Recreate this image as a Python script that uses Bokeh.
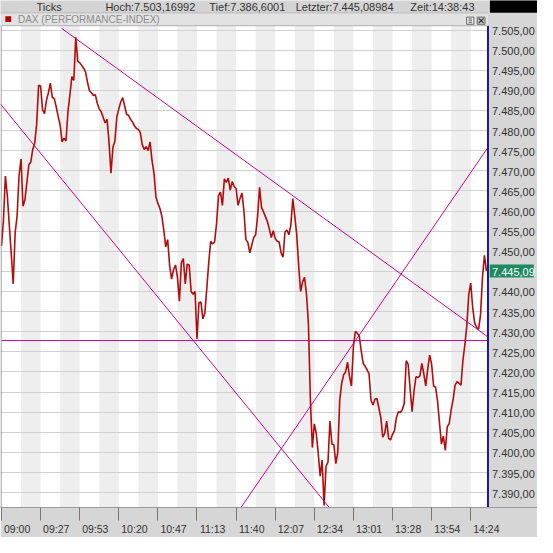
from bokeh.plotting import figure
from bokeh.models import Range1d, FixedTicker, Grid
from bokeh.embed import file_html
from bokeh.resources import INLINE
from bokeh.core.properties import value

# ---------------- data ----------------
price = [
    7451.3, 7457.6, 7468.7, 7463.8, 7456.5, 7449.4, 7441.9, 7454.6, 7458.8, 7468.9,
    7472.9, 7461.2, 7462.8, 7467.1, 7471.5, 7472.2, 7475.3, 7476.9, 7481.6, 7491.3,
    7491.1, 7485.2, 7484.2, 7487.5, 7489.4, 7491.8, 7488.2, 7488.0, 7485.9, 7483.5,
    7481.4, 7477.2, 7478.1, 7477.4, 7484.7, 7488.9, 7493.4, 7492.5, 7503.2, 7497.2,
    7496.9, 7496.2, 7495.5, 7494.6, 7492.0, 7489.9, 7489.4, 7488.7, 7488.9, 7486.8,
    7485.4, 7484.7, 7483.3, 7481.9, 7482.8, 7477.2, 7469.4, 7475.8, 7477.4, 7483.3,
    7485.4, 7487.1, 7488.2, 7486.1, 7484.0, 7483.8, 7482.8, 7482.1, 7481.2, 7480.5,
    7480.3, 7479.5, 7476.5, 7475.3, 7476.0, 7475.0, 7477.2, 7472.5, 7469.4, 7463.5,
    7461.9, 7460.7, 7458.8, 7455.3, 7451.1, 7452.9, 7446.4, 7443.1, 7445.4, 7446.6,
    7443.5, 7437.6, 7447.1, 7448.2, 7441.9, 7446.8, 7446.6, 7440.0, 7439.3, 7440.0,
    7428.2, 7437.2, 7437.4, 7433.2, 7434.6, 7440.7, 7447.1, 7452.5, 7451.8, 7452.3,
    7456.9, 7463.8, 7464.7, 7461.4, 7468.0, 7467.1, 7468.2, 7465.2, 7467.3, 7466.1,
    7465.6, 7461.4, 7463.1, 7464.5, 7460.0, 7452.9, 7452.2, 7449.6, 7451.5, 7453.4,
    7454.1, 7458.8, 7465.9, 7460.9, 7459.8, 7458.6, 7457.4, 7455.5, 7453.4, 7455.1,
    7453.2, 7452.5, 7452.3, 7449.6, 7448.5, 7454.8, 7455.3, 7454.1, 7456.5, 7463.1,
    7458.8, 7454.1, 7446.4, 7440.0, 7442.4, 7443.5, 7439.3, 7431.8, 7412.9, 7401.2,
    7407.1, 7404.7, 7399.8, 7394.1, 7398.1, 7386.8, 7396.5, 7397.6, 7407.8, 7402.1,
    7401.9, 7397.2, 7400.0, 7412.9, 7417.2, 7419.3, 7420.0, 7422.4, 7418.8, 7416.5,
    7426.4, 7430.1, 7429.6, 7428.9, 7425.2, 7422.1, 7421.4, 7420.5, 7419.5, 7412.9,
    7411.8, 7413.2, 7413.4, 7411.1, 7408.7, 7403.8, 7404.7, 7407.8, 7403.5, 7403.1,
    7404.5, 7405.4, 7408.7, 7410.1, 7409.9, 7410.6, 7412.2, 7422.8, 7421.9, 7415.8,
    7410.1, 7415.3, 7418.8, 7418.6, 7419.0, 7422.1, 7419.5, 7416.5, 7420.7, 7424.2,
    7421.9, 7416.5, 7416.2, 7412.9, 7407.5, 7402.1, 7404.0, 7400.5, 7406.4, 7407.1,
    7410.6, 7413.2, 7416.7, 7417.6, 7417.2, 7416.7, 7422.8, 7426.8, 7431.5, 7439.3,
    7442.1, 7436.0, 7432.2, 7431.1, 7430.6, 7434.1, 7443.5, 7449.0, 7445.1,
]
time_labels = ["09:00", "09:27", "09:53", "10:20", "10:47", "11:13", "11:40",
               "12:07", "12:34", "13:01", "13:28", "13:54", "14:24"]
samples_per_label = 20
y_ticks = list(range(7390, 7510, 5))

# drawn trend lines (x = sample index, y = index points)
upper_trend_x = [30.8, 248.8]
upper_trend_y = [7505.4, 7428.7]
lower_trend_x = [-0.5, 167.5]
lower_trend_y = [7486.6, 7386.4]
rising_trend_x = [122.2, 248.8]
rising_trend_y = [7386.1, 7475.8]
support_level = 7427.8

title = "DAX (PERFORMANCE-INDEX)"
header_items = ["Ticks", "Hoch:7.503,16992", "Tief:7.386,6001",
                "Letzter:7.445,08984", "Zeit:14:38:43"]
last_value = 7445.09

# ---------------- style ----------------
FONT = "Liberation Sans"
PANEL = "#d6d6d6"
TOPBAR = "#d4d4d4"
TITLEBAR = "#e2e2e2"
LINE_RED = "#b30c0c"
MAGENTA = "#cc0099"
TXT = "#333333"
GREEN = "#1d8a62"

# page geometry helpers (layout only): reference-pixel -> data coordinates
PX_PER_SAMPLE = 2.0135
PX_PER_POINT = 4.229
Y_BOTTOM = 7386.3
Y_TOP = Y_BOTTOM + 533 / PX_PER_POINT
X_START = -1 / PX_PER_SAMPLE
X_FULL = 552 / PX_PER_SAMPLE
x_end = 501 / PX_PER_SAMPLE   # right edge of the price area


def rx(px):
    return (px - 1) / PX_PER_SAMPLE


def ry(py):
    return Y_TOP - py / PX_PER_POINT


def de(v, nd=2):
    s = f"{v:,.{nd}f}"
    return s.replace(",", "X").replace(".", ",").replace("X", ".")


n = len(price)
p = figure(width=537, height=537, x_range=Range1d(X_START, X_FULL), y_range=Range1d(Y_BOTTOM, Y_TOP),
           y_axis_location=None, output_backend="svg", toolbar_location=None,
           min_border_top=0, min_border_bottom=19, min_border_left=0, min_border_right=0)
p.background_fill_color = "white"
p.border_fill_color = PANEL
p.outline_line_color = None

# alternating vertical bands and horizontal grid
p.xgrid.ticker = FixedTicker(ticks=list(range(samples_per_label // 2, 250, samples_per_label // 2)))
p.xgrid.grid_line_color = None
p.xgrid.band_fill_color = "#eeeeee"
p.xgrid.band_fill_alpha = 1
for g in p.ygrid:
    g.grid_line_color = None
p.add_layout(Grid(dimension=1, ticker=FixedTicker(ticks=y_ticks), grid_line_color="#d0d0d0"))

# bottom axis: labels just right of the tick marks
xa = p.xaxis[0]
label_shift = 8
xa.ticker = FixedTicker(ticks=[samples_per_label * k + label_shift for k in range(len(time_labels))],
                        minor_ticks=[samples_per_label * k for k in range(len(time_labels))])
xa.major_label_overrides = {samples_per_label * k + label_shift: lab for k, lab in enumerate(time_labels)}
xa.major_tick_out = 0
xa.major_tick_in = 0
xa.minor_tick_out = 13
xa.minor_tick_in = 0
xa.minor_tick_line_color = "#777777"
xa.major_label_standoff = 2
xa.axis_line_color = "#9a9a9a"
xa.major_label_text_font = FONT
xa.major_label_text_font_size = "10.5px"
xa.major_label_text_color = TXT

# trend lines
p.line(upper_trend_x, upper_trend_y, line_color=MAGENTA, line_width=1)
p.line(lower_trend_x, lower_trend_y, line_color=MAGENTA, line_width=1)
p.line(rising_trend_x, rising_trend_y, line_color=MAGENTA, line_width=1)
p.segment(x0=[0], y0=[support_level], x1=[x_end], y1=[support_level],
          line_color=MAGENTA, line_width=1)

# price line
p.line(list(range(n)), price, line_color=LINE_RED, line_width=1.6)

# left frame edge
p.segment(x0=[rx(0.6)], y0=[ry(27)], x1=[rx(0.6)], y1=[Y_BOTTOM - 5],
          line_color="#8a8a8a", line_width=1)

# ---- price-scale panel on the right ----
p.quad(left=[x_end], right=[X_FULL + 5], bottom=[Y_BOTTOM - 10], top=[ry(13)],
       fill_color=PANEL, line_color=None)
p.segment(x0=[x_end], y0=[ry(26.5)], x1=[x_end], y1=[Y_BOTTOM - 5],
          line_color="#1a1a8c", line_width=2)
shown = [t for t in y_ticks if t != 7445]
p.text(x=[x_end] * len(shown), y=shown, text=[de(t) for t in shown], x_offset=4, y_offset=1,
       text_font=value(FONT), text_font_size="11px", text_color=TXT,
       text_align="left", text_baseline="middle")
p.rect(x=[rx(526.5)], y=[last_value], width=[44], height=[13],
       width_units="screen", height_units="screen", fill_color=GREEN, line_color=None)
p.text(x=[x_end], y=[last_value], text=[de(last_value)], x_offset=4, y_offset=1,
       text_font=value(FONT), text_font_size="11px", text_color="white",
       text_align="left", text_baseline="middle")

# ---- title bar ----
p.quad(left=[X_START - 5], right=[x_end], bottom=[ry(26.5)], top=[ry(13)],
       fill_color=TITLEBAR, line_color=None)
p.segment(x0=[X_START - 5], y0=[ry(26.5)], x1=[x_end], y1=[ry(26.5)],
          line_color="#b0b0b0", line_width=1)
p.quad(left=[rx(5)], right=[rx(11)], bottom=[ry(22.5)], top=[ry(16.5)],
       fill_color="#b00000", line_color=None)
p.text(x=[rx(18)], y=[ry(20)], text=[title], text_font=value(FONT), text_font_size="10px",
       text_color="#8c8c8c", text_baseline="middle")
# two small window icons
p.quad(left=[rx(480), rx(491)], right=[rx(487.5), rx(499)],
       bottom=[ry(25), ry(25)], top=[ry(17.5), ry(17.5)],
       fill_color=["#ececec", "#c8c8c8"], line_color="#6a6a6a", line_width=1)
p.segment(x0=[rx(482)] * 3, y0=[ry(19.5), ry(21.3), ry(23.1)], x1=[rx(485.5)] * 3,
          y1=[ry(19.5), ry(21.3), ry(23.1)], line_color="#6a6a6a", line_width=1)
p.segment(x0=[rx(492.5), rx(492.5)], y0=[ry(19), ry(23.5)], x1=[rx(497.5), rx(497.5)],
          y1=[ry(23.5), ry(19)], line_color="#303030", line_width=1.2)

# ---- top info strip ----
p.quad(left=[X_START - 5], right=[X_FULL + 5], bottom=[ry(13)], top=[Y_TOP + 5],
       fill_color=TOPBAR, line_color=None)
p.segment(x0=[X_START - 5], y0=[ry(13)], x1=[x_end], y1=[ry(13)],
          line_color="#b8b8b8", line_width=1)
p.quad(left=[rx(504)], right=[X_FULL + 5], bottom=[ry(13)], top=[Y_TOP + 5],
       fill_color="black", line_color=None)
p.text(x=[rx(37), rx(108), rx(215), rx(304), rx(422)], y=[ry(7)] * 5, text=header_items,
       text_font=value(FONT), text_font_size="11px", text_color=TXT,
       text_baseline="middle")

open("out.html", "w").write(file_html(p, INLINE))
